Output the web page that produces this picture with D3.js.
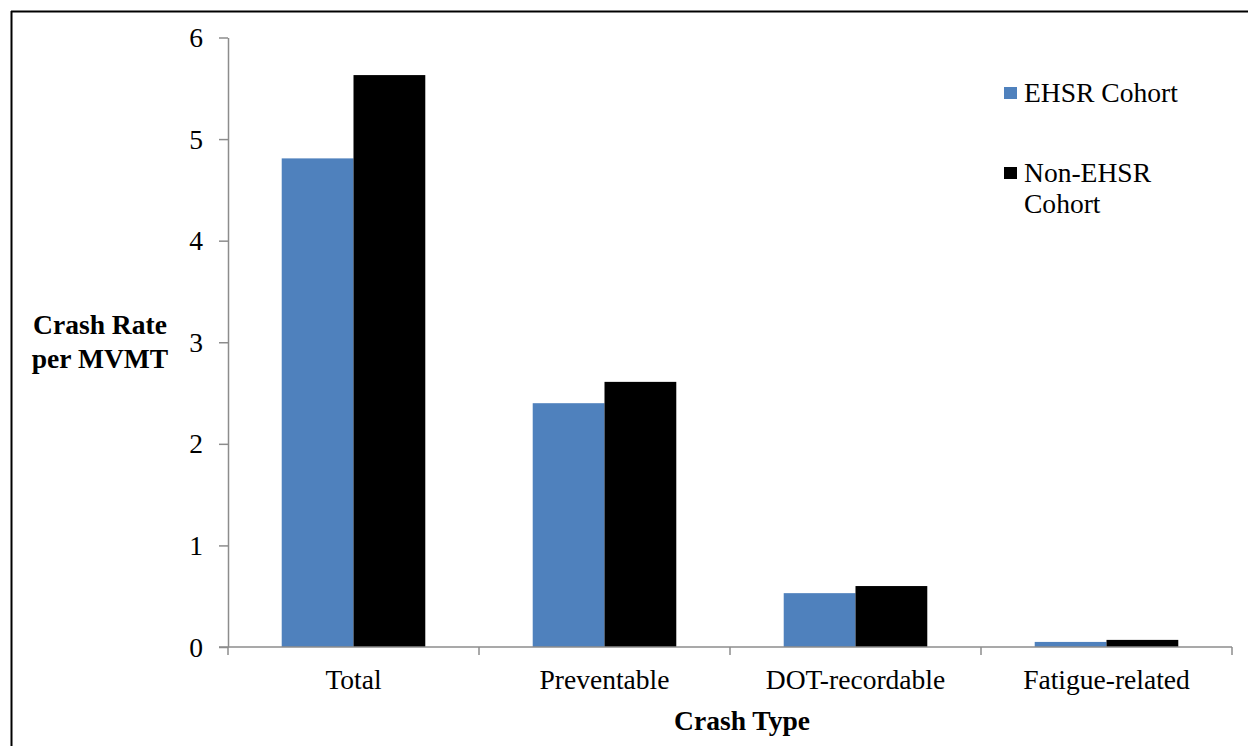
<!DOCTYPE html>
<html>
<head>
<meta charset="utf-8">
<script src="https://cdn.jsdelivr.net/npm/d3@7"></script>
<style>
  html, body { margin: 0; padding: 0; background: #fff; }
  svg { display: block; }
  text { font-family: "Liberation Serif", "Times New Roman", serif; fill: #000; }
</style>
</head>
<body>
<svg id="chart" width="1248" height="746"></svg>
<script>
const categories = ["Total", "Preventable", "DOT-recordable", "Fatigue-related"];
const seriesNames = ["EHSR Cohort", "Non-EHSR Cohort"];
const ehsrValues = [4.81, 2.40, 0.53, 0.05];
const nonEhsrValues = [5.63, 2.61, 0.60, 0.07];
const yTicks = [0, 1, 2, 3, 4, 5, 6];
const colors = ["#4F81BD", "#000000"];

const svg = d3.select("#chart");
const SX = 1.04, FS = 26.5;
const FONT = "'Liberation Serif', 'Times New Roman', serif";
const axisColor = "#8c8c8c";

// frame (top and left border)
svg.append("line").attr("x1", 11).attr("x2", 1248).attr("y1", 11.5).attr("y2", 11.5)
  .attr("stroke", "#000").attr("stroke-width", 2);
svg.append("line").attr("x1", 11.5).attr("x2", 11.5).attr("y1", 11).attr("y2", 746)
  .attr("stroke", "#000").attr("stroke-width", 2);

const x = d3.scaleBand().domain(categories).range([228, 1232]).padding(0);
const y = d3.scaleLinear().domain([0, 6]).range([647, 37.5]);
const xs = d3.scaleBand().domain(seriesNames).range([0, x.bandwidth() * 0.572]).padding(0);
const offset = (x.bandwidth() - xs.range()[1]) / 2;

// bars
const series = [ehsrValues, nonEhsrValues];
series.forEach((vals, si) => {
  svg.append("g").selectAll("rect").data(categories).join("rect")
    .attr("x", d => x(d) + offset + xs(seriesNames[si]))
    .attr("width", xs.bandwidth())
    .attr("y", (d, i) => y(vals[i]))
    .attr("height", (d, i) => y(0) - y(vals[i]))
    .attr("fill", colors[si]);
});

// y axis
const yAxis = svg.append("g").attr("transform", "translate(228,0)")
  .call(d3.axisLeft(y).tickValues(yTicks).tickFormat(d3.format("d")).tickSize(9).tickSizeOuter(0));
yAxis.select(".domain").attr("stroke", axisColor).attr("stroke-width", 1.5);
yAxis.selectAll(".tick line").attr("stroke", axisColor).attr("stroke-width", 1.5);
yAxis.selectAll(".tick text")
  .attr("x", 0).attr("dy", "0.34em")
  .attr("transform", `translate(-25,0) scale(${SX},1)`)
  .style("font-size", FS + "px").style("font-family", FONT);

// x axis
const xAxis = svg.append("g").attr("transform", "translate(0,647)")
  .call(d3.axisBottom(x).tickSize(0).tickSizeOuter(0));
xAxis.select(".domain").attr("stroke", axisColor).attr("stroke-width", 1.5)
  .attr("d", "M219,0H1232");
xAxis.selectAll(".tick text")
  .attr("y", 0).attr("dy", 0)
  .attr("transform", `translate(0,42) scale(${SX},1)`)
  .style("font-size", FS + "px").style("font-family", FONT);

// category boundary ticks
const bounds = categories.map(c => x(c)).concat([x.range()[1]]);
xAxis.append("g").selectAll("line").data(bounds).join("line")
  .attr("x1", d => d).attr("x2", d => d).attr("y1", 0).attr("y2", 8)
  .attr("stroke", axisColor).attr("stroke-width", 1.5);

function label(txt, px, py, anchor, bold) {
  svg.append("text")
    .attr("transform", `translate(${px},${py}) scale(${SX},1)`)
    .attr("text-anchor", anchor)
    .style("font-size", FS + "px")
    .style("font-family", FONT)
    .style("font-weight", bold ? "bold" : "normal")
    .text(txt);
}

// axis titles
label("Crash Rate", 100, 334, "middle", true);
label("per MVMT", 100, 368, "middle", true);
label("Crash Type", 742, 730, "middle", true);

// legend
svg.append("rect").attr("x", 1004).attr("y", 87).attr("width", 13).attr("height", 12).attr("fill", colors[0]);
label("EHSR Cohort", 1024, 102, "start", false);
svg.append("rect").attr("x", 1004).attr("y", 167).attr("width", 13).attr("height", 12).attr("fill", colors[1]);
label("Non-EHSR", 1024, 182, "start", false);
label("Cohort", 1024, 213, "start", false);
</script>
</body>
</html>
